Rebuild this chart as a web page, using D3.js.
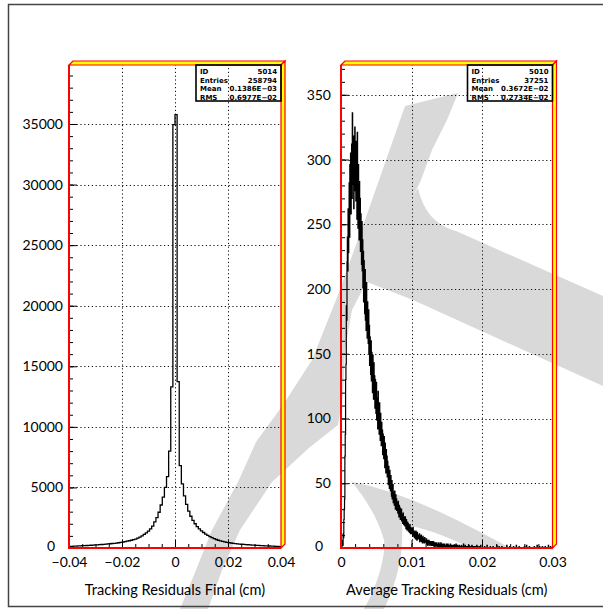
<!DOCTYPE html>
<html><head><meta charset="utf-8">
<script src="https://cdn.jsdelivr.net/npm/d3@7"></script>
<style>body{margin:0;background:#fff}svg{display:block}</style>
</head><body>
<svg id="c" width="603" height="609"></svg>
<script>
// ---- Histogram 5014: final tracking residuals, 100 bins on [-0.04, 0.04] ----
const finalRange = [-0.04, 0.04];
// counts left of zero, listed from the centre bin outwards
const finalLeft = [34950,13300,8000,5900,5000,4200,3550,2950,2500,2150,
  1800,1580,1400,1250,1120,1000,900,810,740,690,
  640,600,560,520,490,460,435,410,390,370,
  350,335,320,305,290,278,265,252,240,228,
  218,208,198,188,178,168,158,148,138,128];
// counts right of zero, listed from the centre bin outwards
const finalRight = [35770,13730,6800,5300,4300,3600,3050,2620,2280,2000,
  1770,1580,1420,1280,1150,1040,940,850,770,700,
  640,590,545,505,470,440,412,387,365,345,
  326,310,294,280,267,255,243,232,221,211,
  201,192,183,174,165,156,147,138,128,118];
const finalTicksX = [-0.04, -0.02, 0, 0.02, 0.04];
const finalTicksY = [0, 5000, 10000, 15000, 20000, 25000, 30000, 35000];
const finalStats = [["ID", "5014"], ["Entries", "258794"], ["Mean", "0.1386E\u221203"], ["RMS", "0.6977E\u221202"]];

// ---- Histogram 5010: average tracking residuals, 600 bins on [0, 0.03] ----
const avgRange = [0, 0.03];
const avgBins = 600;
const avgCounts = [
  0,2,0,3,6,2,11,8,22,30,38,71,88,130,142,187,176,221,240,214,
  262,228,251,282,240,296,266,305,258,288,312,270,336,281,299,318,262,310,287,325,
  276,301,268,314,290,254,321,279,247,296,262,238,283,251,270,229,258,241,219,252,
  214,238,201,229,190,222,208,181,215,176,199,168,205,183,162,190,171,158,184,150,
  172,141,163,155,134,160,129,151,138,120,149,127,115,143,122,133,108,130,117,104,
  128,99,116,110,92,121,97,106,88,112,94,83,104,90,79,97,84,91,72,88,
  80,69,86,74,62,81,70,58,76,64,71,55,67,59,49,63,54,46,60,51,
  44,56,47,40,52,38,45,49,35,43,39,33,44,36,30,41,34,38,29,35,
  32,27,36,29,24,33,27,31,22,28,25,30,21,26,23,19,27,22,18,24,
  21,17,24,19,15,22,18,14,20,16,19,13,17,15,12,18,14,11,16,13,
  15,11,14,9,16,12,10,13,8,12,11,7,13,9,10,6,12,8,9,7,
  10,7,11,5,9,8,6,10,5,8,7,4,9,6,5,7,4,8,5,6,
  6,4,7,3,5,6,2,5,4,6,3,5,2,4,5,3,4,2,5,3,
  4,2,5,3,1,4,3,2,4,1,3,4,2,3,1,3,2,4,1,2,
  3,1,2,4,1,2,3,1,2,0,3,1,2,3,1,2,0,2,1,3,
  1,2,0,3,1,2,1,0,2,1,3,0,1,2,0,1,2,1,0,2,
  1,0,2,1,0,1,3,0,1,0,2,1,0,0,1,2,0,1,0,1,
  0,2,0,1,0,0,1,3,0,1,0,0,2,0,1,0,0,1,0,0,
  1,0,0,2,0,1,0,0,0,1,0,2,0,0,1,0,0,0,1,0,
  0,1,0,0,0,2,0,0,1,0,0,0,0,1,0,0,2,0,0,0];
// sparse far tail: [bin, count]
const avgTail = [[407,1],[414,2],[423,1],[431,1],[442,2],[448,1],[456,1],[470,2],[478,1],
  [489,1],[497,2],[505,1],[520,1],[526,2],[534,1],[548,1],[556,2],[563,1],[571,1],[579,1],[588,2],[594,1]];
const avgTicksX = [0, 0.01, 0.02, 0.03];
const avgTicksY = [0, 50, 100, 150, 200, 250, 300, 350];
const avgStats = [["ID", "5010"], ["Entries", "37251"], ["Mean", "0.3672E\u221202"], ["RMS", "0.2734E\u221202"]];

const svg = d3.select("#c");
const FONT = "Lato, 'DejaVu Sans', sans-serif";

// ---- background sketch shapes ----
const wm = svg.append("g").attr("fill", "#d9d9d9").attr("stroke", "none");
// long diagonal stroke
wm.append("path").attr("d",
  "M405,106 L458,93 L447,120 L432,150 L421,180 L392,240 L365,285 L352,310 L345,350 L343,395 L338,425 " +
  "L310,447 L272,482 L240,530 L222,570 L208,609 L180,609 L196,570 L212,530 L238,482 L256,442 L283,405 " +
  "L312,360 L336,300 L365,220 Z");
// arm leaving to the right
wm.append("path").attr("d",
  "M418,188 C424,214 438,226 456,231 L603,296 L603,386 L413,300 L362,280 Z");
// lower hook
wm.append("path").attr("d",
  "M352,482 C395,490 445,512 510,548 L470,548 C445,535 420,527 402,524 C404,555 396,585 384,609 " +
  "L364,609 C378,585 386,555 384,540 C378,518 365,498 352,482 Z");

// ---- outer page border ----
svg.append("path").attr("d", "M700,4.5 H8.5 V606.5 H700")
  .attr("fill", "none").attr("stroke", "#444").attr("stroke-width", 1.5);

function panel(o) {
  const g = svg.append("g");
  const x = d3.scaleLinear().domain(o.xDomain).range([o.left, o.right]);
  const y = d3.scaleLinear().domain([0, o.yMax]).range([o.bottom, o.top]);

  // dotted grid at major ticks
  const grid = g.append("g").attr("stroke", "#111").attr("stroke-width", 1)
    .attr("stroke-dasharray", "1.2,2.6");
  grid.selectAll("line.gx").data(o.ticksX.slice(1, -1)).join("line")
    .attr("x1", d => Math.round(x(d)) + 0.5).attr("x2", d => Math.round(x(d)) + 0.5)
    .attr("y1", o.bottom).attr("y2", o.top);
  grid.selectAll("line.gy").data(o.ticksY.slice(1)).join("line")
    .attr("y1", d => Math.round(y(d)) + 0.5).attr("y2", d => Math.round(y(d)) + 0.5)
    .attr("x1", o.left).attr("x2", o.right);

  // histogram outline
  const line = d3.line().x(d => d[0]).y(d => d[1]);
  const pts = [[x(o.edges[0]), y(0)]];
  o.counts.forEach((c, i) => {
    pts.push([x(o.edges[i]), y(c)]);
    pts.push([x(o.edges[i + 1]), y(c)]);
  });
  pts.push([x(o.edges[o.edges.length - 1]), y(0)]);
  g.append("path").attr("d", line(pts)).attr("fill", "none")
    .attr("stroke", "#000").attr("stroke-width", o.lineWidth).attr("stroke-linejoin", "miter");

  // ticks (inside the frame) and labels
  const ax = g.append("g").attr("transform", `translate(0,${o.bottom})`)
    .call(d3.axisBottom(x).tickValues(o.ticksX).tickSize(-8).tickPadding(9).tickFormat(o.fmtX));
  const axm = g.append("g").attr("transform", `translate(0,${o.bottom})`)
    .call(d3.axisBottom(x).tickValues(o.minorX).tickSize(-4).tickFormat(""));
  const ay = g.append("g").attr("transform", `translate(${o.left},0)`)
    .call(d3.axisLeft(y).tickValues(o.ticksY).tickSize(-8).tickPadding(o.padY).tickFormat(d3.format("d")));
  const aym = g.append("g").attr("transform", `translate(${o.left},0)`)
    .call(d3.axisLeft(y).tickValues(o.minorY).tickSize(-4).tickFormat(""));
  [ax, axm, ay, aym].forEach(a => {
    a.select(".domain").remove();
    a.selectAll(".tick line").attr("stroke", "#000").attr("stroke-width", 1);
    a.selectAll("text").attr("font-family", FONT).attr("font-size", 14).attr("fill", "#000");
  });
  ax.selectAll("text").attr("dy", "0.71em");
  // the zero label sits a little further out, at the corner
  const zero = ay.selectAll(".tick").filter(d => d === 0);
  zero.select("line").remove();
  zero.select("text").attr("x", -(o.padY + 8)).attr("dy", "0.15em");

  // frame: red left/bottom, bevelled yellow band on top and right
  const w = 4;
  g.append("path")
    .attr("d", `M${o.left},${o.top} L${o.left + w},${o.top - w} L${o.right + w},${o.top - w} L${o.right},${o.top} Z`)
    .attr("fill", "#ffff00").attr("stroke", "#ff0000").attr("stroke-width", 1.2);
  g.append("path")
    .attr("d", `M${o.right},${o.top} L${o.right + w},${o.top - w} L${o.right + w},${o.bottom - w} L${o.right},${o.bottom} Z`)
    .attr("fill", "#ffff00").attr("stroke", "#ff0000").attr("stroke-width", 1.2);
  g.append("path").attr("d", `M${o.left},${o.top} V${o.bottom} H${o.right}`)
    .attr("fill", "none").attr("stroke", "#ff0000").attr("stroke-width", 2);

  // statistics box
  const bx = o.right - 85, by = o.top, bw = 85, bh = 36;
  const sb = g.append("g");
  sb.append("rect").attr("x", bx).attr("y", by).attr("width", bw).attr("height", bh)
    .attr("fill", "none").attr("stroke", "#000").attr("stroke-width", 1.6);
  o.stats.forEach((s, i) => {
    const ty = by + 7 + i * 8.4;
    sb.append("text").attr("x", bx + 4).attr("y", ty).attr("dy", "0.35em").text(s[0])
      .attr("font-family", "'DejaVu Sans', sans-serif").attr("font-size", 7).attr("font-weight", "bold");
    sb.append("text").attr("x", bx + bw - 4).attr("y", ty).attr("dy", "0.35em").attr("text-anchor", "end").text(s[1])
      .attr("font-family", "'DejaVu Sans', sans-serif").attr("font-size", 7).attr("font-weight", "bold");
  });

  // axis title
  g.append("text").attr("x", (o.left + o.right) / 2).attr("y", 595).attr("text-anchor", "middle")
    .attr("font-family", FONT).attr("font-size", 14.6).text(o.title);
}

// left panel
const fEdges = d3.range(101).map(i => finalRange[0] + i * (finalRange[1] - finalRange[0]) / 100);
const fCounts = finalLeft.slice().reverse().concat(finalRight);
panel({
  xDomain: finalRange, left: 69, right: 281, top: 65, bottom: 548, yMax: 39870,
  edges: fEdges, counts: fCounts, lineWidth: 1.3, padY: 6,
  ticksX: finalTicksX, ticksY: finalTicksY,
  minorX: d3.range(-0.04, 0.0401, 0.005), minorY: d3.range(0, 39001, 1000),
  fmtX: d => d === 0 ? "0" : d3.format(".2f")(d),
  stats: finalStats, title: "Tracking Residuals Final (cm)"
});

// right panel
const aEdges = d3.range(avgBins + 1).map(i => avgRange[0] + i * (avgRange[1] - avgRange[0]) / avgBins);
const aCounts = new Array(avgBins).fill(0);
avgCounts.forEach((c, i) => aCounts[i] = c);
avgTail.forEach(([b, c]) => aCounts[b] = c);
panel({
  xDomain: avgRange, left: 341, right: 552.5, top: 65, bottom: 548, yMax: 373,
  edges: aEdges, counts: aCounts, lineWidth: 1.2, padY: 10,
  ticksX: avgTicksX, ticksY: avgTicksY,
  minorX: d3.range(0, 0.03001, 0.002), minorY: d3.range(0, 371, 10),
  fmtX: d => d === 0 ? "0" : d3.format(".2f")(d),
  stats: avgStats, title: "Average Tracking Residuals (cm)"
});
</script>
</body></html>
